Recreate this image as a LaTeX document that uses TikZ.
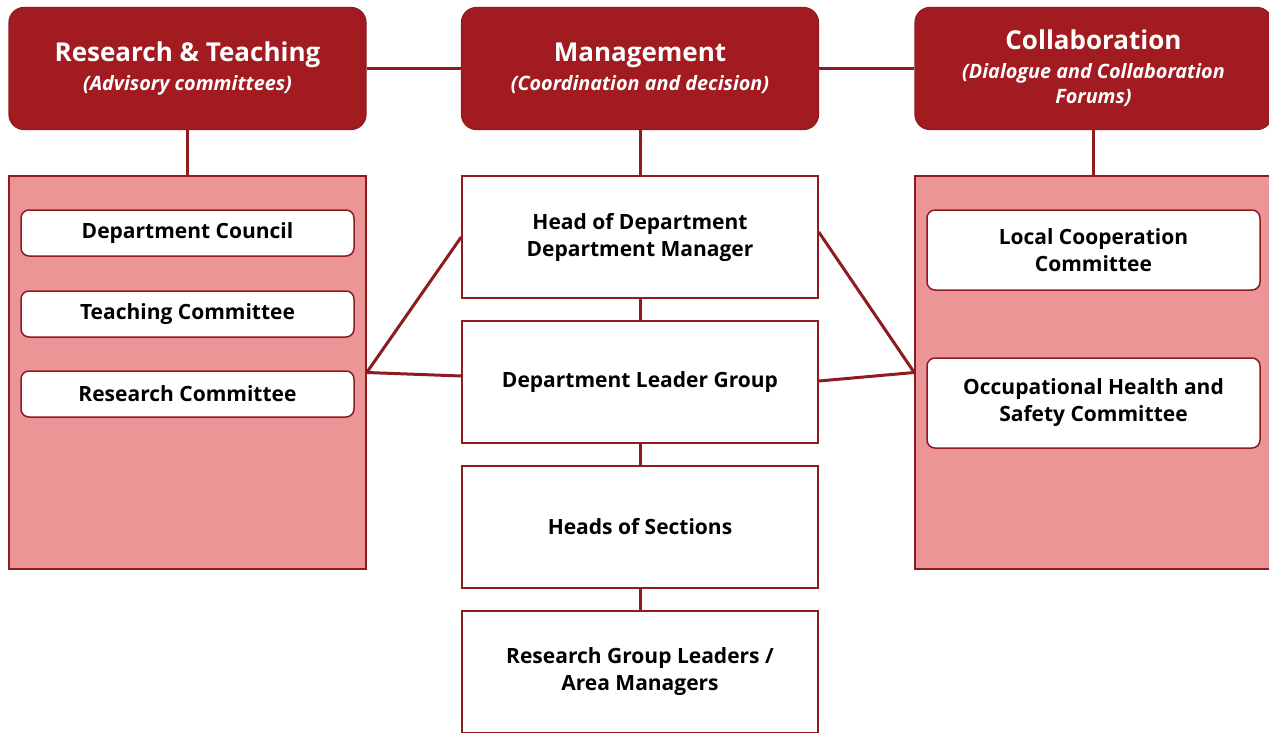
\documentclass[tikz,border=0pt]{standalone}
\usepackage{fontspec}
\setmainfont{Open Sans}
\usetikzlibrary{backgrounds}
\definecolor{hdr}{HTML}{A11B21}
\definecolor{edge}{HTML}{8E1B1F}
\definecolor{panel}{HTML}{EC9597}
\tikzset{
  header/.style={draw=edge, fill=hdr, rounded corners=15pt, line width=1.2pt,
    minimum width=357pt, minimum height=122pt, text=white, align=center,
    inner sep=0pt, font=\fontsize{19.8}{29}\selectfont},
  panelbox/.style={draw=edge, fill=panel, line width=1.5pt, minimum width=357pt,
    minimum height=393pt, inner sep=0pt},
  itembox/.style={draw=edge, fill=white, rounded corners=8pt, line width=1.5pt,
    minimum width=333pt, align=center, inner sep=0pt,
    font=\fontsize{21}{27}\selectfont\bfseries},
  mainbox/.style={draw=edge, fill=white, line width=1.5pt, minimum width=356pt,
    minimum height=122pt, align=center, inner sep=0pt,
    font=\fontsize{21}{27}\selectfont\bfseries},
  link/.style={draw=edge, line width=3pt},
}
\newcommand{\htitle}[1]{{\fontsize{26}{29}\selectfont\bfseries #1}}
\newcommand{\hsub}[1]{{\bfseries\itshape #1}}
\begin{document}
\begin{tikzpicture}[x=1pt,y=-1pt]
\path[use as bounding box] (0,0) rectangle (1269,733);
\clip (0,0) rectangle (1269,733);

% top row of headers
\node[header] (rt) at (187.5,68.5) {\htitle{Research \& Teaching}\\\hsub{(Advisory committees)}};
\node[header] (mg) at (640,68.5) {\htitle{Management}\\\hsub{(Coordination and decision)}};
\node[header] (cb) at (1093.5,68.5) {\htitle{Collaboration}\\\hsub{(Dialogue and Collaboration}\\[-4pt]\hsub{Forums)}};

% side panels
\node[panelbox] (lp) at (187.5,372.5) {};
\node[panelbox] (rp) at (1093.5,372.5) {};

% advisory committees
\node[itembox, minimum height=46pt] (dc) at (187.5,233) {Department Council};
\node[itembox, minimum height=46pt] (tc) at (187.5,314) {Teaching Committee};
\node[itembox, minimum height=46pt] (rc) at (187.5,394) {Research Committee};

% collaboration forums
\node[itembox, minimum height=80pt] (lc) at (1093.5,250) {Local Cooperation\\Committee};
\node[itembox, minimum height=90pt] (oh) at (1093.5,403) {Occupational Health and\\Safety Committee};

% management chain
\node[mainbox] (hd) at (640,237) {Head of Department\\Department Manager};
\node[mainbox] (lg) at (640,382) {Department Leader Group};
\node[mainbox] (hs) at (640,527) {Heads of Sections};
\node[mainbox] (rg) at (640,672) {Research Group Leaders /\\Area Managers};

\begin{scope}[on background layer]
  \draw[link] (rt.east) -- (mg.west);
  \draw[link] (mg.east) -- (cb.west);
  \draw[link] (rt.south) -- (lp.north);
  \draw[link] (mg.south) -- (hd.north);
  \draw[link] (cb.south) -- (rp.north);
  \draw[link] (hd.south) -- (lg.north);
  \draw[link] (lg.south) -- (hs.north);
  \draw[link] (hs.south) -- (rg.north);
  \draw[link] (lp.east) -- (hd.west);
  \draw[link] (lp.east) -- ([yshift=6pt]lg.west);
  \draw[link] (rp.west) -- ([yshift=5pt]hd.east);
  \draw[link] (rp.west) -- ([yshift=1pt]lg.east);
\end{scope}
\end{tikzpicture}
\end{document}
